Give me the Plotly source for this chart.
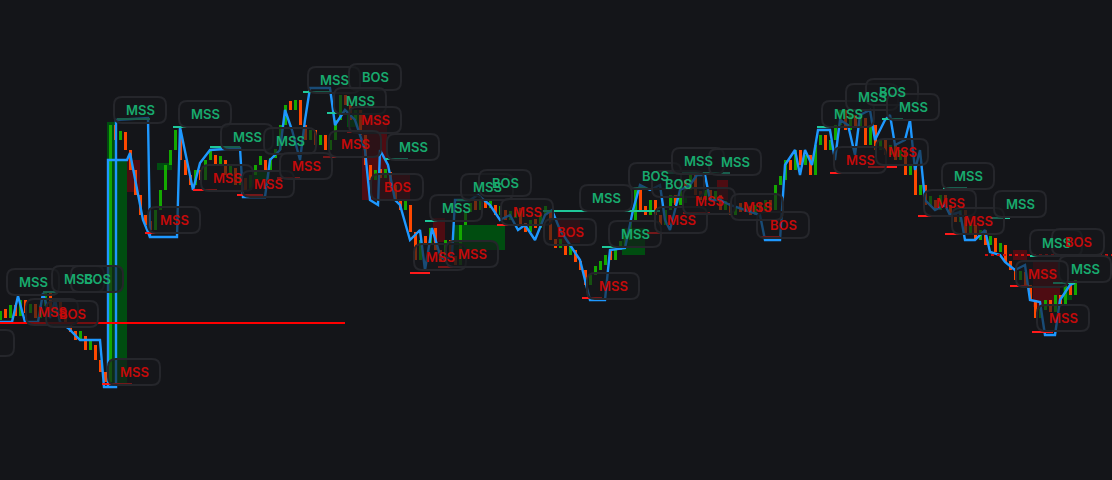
import plotly.graph_objects as go

# ---- Colors ----
BG = "#141519"
UP = "#14a800"
DOWN = "#ff4800"
BLUE = "#1e98ff"
LOW_LEVEL = "#ff1a1a"
HIGH_LEVEL = "#1ec79a"
BULL_BOX = "#004d10"
BEAR_BOX = "#4e0c12"
LABEL_FILL = "rgba(22,23,27,0.6)"
LABEL_LINE = "#25262b"
TXT_BULL = "#18aa6e"
TXT_BEAR = "#c40a0a"

# ---- Price data (bar index -> close) ----
first_open = 160
closes = [
    168, 162, 175, 164, 180, 167, 176, 162, 174, 187, 166, 180, 162, 158, 148, 140,
    144, 130, 135, 120, 108, 98, 355, 340, 348, 330, 310, 285, 265, 255, 250, 270,
    290, 315, 330, 350, 320, 305, 295, 310, 300, 320, 325, 315, 320, 305, 312, 295,
    302, 290, 305, 315, 320, 310, 322, 330, 355, 375, 370, 380, 355, 340, 350, 335,
    345, 330, 340, 360, 385, 375, 360, 370, 345, 315, 300, 310, 302, 308, 295, 280,
    270, 275, 248, 220, 240, 235, 252, 230, 218, 240, 222, 215, 255, 268, 275, 270,
    277, 272, 275, 265, 270, 260, 262, 272, 255, 248, 260, 252, 265, 268, 240, 232,
    235, 225, 230, 218, 210, 195, 205, 210, 215, 225, 220, 230, 235, 240, 260, 290,
    270, 265, 280, 265, 255, 270, 285, 275, 300, 290, 305, 285, 280, 290, 280, 285,
    270, 277, 265, 270, 268, 272, 265, 275, 268, 280, 270, 295, 300, 320, 310, 330,
    315, 325, 305, 335, 345, 330, 340, 355, 370, 350, 365, 352, 362, 335, 355, 330,
    340, 325, 335, 320, 330, 305, 315, 285, 295, 275, 280, 270, 285, 275, 265, 258,
    270, 245, 255, 240, 250, 235, 242, 228, 235, 218, 210, 200, 208, 195, 180, 162,
    170, 180, 168, 185, 175, 195, 185, 200,
]

# ---- Trailing structure line (bar index, price) ----
blue_t = [
    0, 2.4, 3.6, 5, 7.6, 8.6, 10, 11, 12, 13.6, 16, 20, 20.8, 23.2, 23.2, 29.6, 30,
    35.4, 36, 38.6, 40, 42, 48, 48.6, 53, 54, 56, 57, 58.4, 60, 61, 62, 66, 67, 69,
    71, 73, 74, 75.6, 76, 77.6, 79, 80, 82, 84, 85, 86.4, 88, 89, 90.4, 91, 94, 95.6,
    98, 100, 102, 103.6, 105, 107, 109, 110.4, 112, 114, 116, 118, 121, 122, 125,
    126.6, 128, 130, 132, 133, 134, 136, 138, 139.4, 141, 142, 144, 146, 149, 152,
    153, 156, 157, 159, 160, 161, 162.4, 163.6, 166, 167, 168, 169.6, 171, 172, 174,
    175, 176, 177, 178, 179, 181, 182, 183, 184, 185, 187, 189, 190, 192, 193, 195,
    197, 198, 200, 201, 203, 205, 206, 208, 209, 211, 212, 214, 215,
    None, 21.6, 21.6, 25.4, 26, 28.6, 30,
]
blue_p = [
    158, 158, 184, 158, 158, 187, 162, 180, 158, 152, 140, 140, 93, 93, 360, 362, 243,
    243, 353, 290, 317, 330, 332, 283, 283, 320, 330, 370, 350, 320, 360, 392, 392,
    355, 370, 360, 330, 280, 275, 330, 315, 280, 275, 240, 250, 210, 252, 225, 220,
    225, 280, 280, 285, 275, 260, 265, 250, 255, 240, 265, 270, 250, 235, 220, 180,
    180, 230, 232, 270, 295, 290, 295, 260, 250, 290, 295, 305, 305, 280, 280, 275,
    270, 265, 240, 240, 315, 330, 305, 330, 315, 350, 350, 320, 360, 355, 325, 365,
    370, 340, 350, 360, 365, 335, 340, 360, 310, 330, 280, 270, 275, 265, 268, 240,
    240, 250, 228, 225, 218, 210, 215, 180, 178, 145, 145, 180, 195, 197,
    None, 93, 320, 320, 327, 260, 243,
]

# ---- Swing levels (start bar, end bar, price) ----
low_t0 = [20.4, 29, 38.6, 47.4, 55.4, 64.6, 69.4, 82, 87.6, 99.4, 116.4, 129.4,
          136.6, 152, 166, 173.6, 183.6, 189, 202, 206.4]
low_t1 = [26.4, 35.4, 43.4, 52.6, 60, 69, 74, 86, 92.4, 103.4, 120.4, 133.4,
          142, 156, 172, 179.4, 189, 193.4, 205.6, 210.6]
low_p = [96, 247, 290, 285, 302, 323, 348, 207, 213, 255, 182, 247,
         267, 243, 307, 313, 264, 246, 194, 148]

high_t0 = [8.6, 23.4, 34.6, 42, 60.6, 65.4, 77, 85, 91.4, 108.6, 120.4, 126.4,
           133.4, 163.4, 176.4, 188.6, 198, 206, 210.6]
high_t1 = [11.6, 30, 38.6, 48, 66, 67.4, 81.6, 90.4, 95.4, 132, 124.6, 129.4,
           146, 168, 180.6, 193.4, 202, 210.6, 215]
high_p = [188, 361, 353, 333, 388, 367, 321, 259, 280, 269, 233, 292,
          307, 353, 361, 292, 262, 224, 197]

# long support line and dotted level
support = (0, 69, 157)
dotted = (197, 222.4, 225)

# ---- Order blocks (start bar, end bar, bottom, top) ----
bull_boxes = [
    (21.4, 23.4, 95, 358), (23.4, 25.4, 95, 320), (31.4, 34.4, 310, 317),
    (50.6, 54, 300, 308), (69.4, 72.6, 353, 370), (90.6, 101, 230, 255),
    (124.4, 129, 225, 252), (134, 137.4, 277, 285), (212.6, 214.4, 180, 193),
]
bear_boxes = [
    (25.4, 28, 288, 320), (72.4, 77.4, 280, 362), (77.4, 82, 280, 307),
    (86.6, 89, 238, 262), (111.4, 116, 237, 260), (143.4, 145.6, 280, 300),
    (202.6, 205.4, 220, 230), (206.6, 212, 173, 220), (193.4, 196, 247, 263),
]

# ---- Structure labels ----
label_t = [6.6, 15.6, 19.4, 10.4, 14.4, -2.4, 26.8, 28, 34.8, 41, 49.4, 45.4, 53.6,
           58, 61.2, 66.8, 75, 72, 75, 71, 82.6, 79.4, 91.2, 97.4, 101, 88, 94.4,
           105.4, 114, 121.2, 127, 122.6, 131, 135.6, 139.6, 147, 136.2, 141.8,
           156.6, 151.4, 169.6, 174.4, 178.4, 182.6, 172, 180.4, 193.6, 190, 195.6,
           204, 211.2, 215.6, 217, 208.4, 212.6]
label_p = [198, 201, 201, 168, 166, 137, 108, 370, 260, 366, 343, 302, 296,
           339, 314, 400, 403, 379, 360, 336, 333, 293, 272, 293, 297, 223, 226,
           268, 248, 282, 246, 194, 304, 296, 319, 318, 260, 279,
           255, 273, 366, 383, 388, 373, 320, 328, 304, 277, 259,
           276, 237, 238, 211, 206, 162]
label_text = ["MSS", "MSS", "BOS", "MSS", "BOS", "MSS", "MSS", "MSS", "MSS", "MSS",
              "MSS", "MSS", "MSS", "MSS", "MSS", "MSS", "BOS", "MSS", "MSS", "MSS",
              "MSS", "BOS", "MSS", "MSS", "BOS", "MSS", "MSS", "MSS", "BOS", "MSS",
              "MSS", "MSS", "BOS", "BOS", "MSS", "MSS", "MSS", "MSS", "BOS", "MSS",
              "MSS", "MSS", "BOS", "MSS", "MSS", "MSS", "MSS", "MSS", "MSS", "MSS",
              "MSS", "BOS", "MSS", "MSS", "MSS"]
label_bull = [1, 1, 1, 0, 0, 0, 0, 1, 0, 1, 1, 0, 0, 1, 0, 1, 1, 1, 0, 0, 1, 0, 1,
              1, 1, 0, 0, 0, 0, 1, 1, 0, 1, 1, 1, 1, 0, 0, 0, 0, 1, 1, 1, 1, 0, 0,
              1, 0, 0, 1, 1, 0, 1, 0, 0]


def segments(t0, t1, p):
    xs, ys = [], []
    for a, b, c in zip(t0, t1, p):
        xs += [a, b, None]
        ys += [c, c, None]
    return xs, ys


def rounded_box(w=52, h=26, r=8):
    x0, x1, y0, y1 = -w / 2, w / 2, -h / 2, h / 2
    return (f"M {x0 + r},{y0} L {x1 - r},{y0} Q {x1},{y0} {x1},{y0 + r} "
            f"L {x1},{y1 - r} Q {x1},{y1} {x1 - r},{y1} L {x0 + r},{y1} "
            f"Q {x0},{y1} {x0},{y1 - r} L {x0},{y0 + r} Q {x0},{y0} {x0 + r},{y0} Z")


opens = [first_open] + closes[:-1]
idx = list(range(len(closes)))
bases = [min(o, c) for o, c in zip(opens, closes)]
# keep tiny bodies visible as thin sticks
heights = [max(abs(c - o), 9) for o, c in zip(opens, closes)]
colors = [UP if c >= o else DOWN for o, c in zip(opens, closes)]

fig = go.Figure()

fig.add_trace(go.Bar(x=idx, y=heights, base=bases, width=0.6,
                     marker=dict(color=colors, line=dict(width=0)),
                     showlegend=False, hoverinfo="skip"))

fig.add_trace(go.Scatter(x=blue_t, y=blue_p, mode="lines",
                         line=dict(color=BLUE, width=2.4), showlegend=False,
                         hoverinfo="skip"))

lx, ly = segments(low_t0, low_t1, low_p)
fig.add_trace(go.Scatter(x=lx, y=ly, mode="lines",
                         line=dict(color=LOW_LEVEL, width=2), showlegend=False,
                         hoverinfo="skip"))
hx, hy = segments(high_t0, high_t1, high_p)
fig.add_trace(go.Scatter(x=hx, y=hy, mode="lines",
                         line=dict(color=HIGH_LEVEL, width=2), showlegend=False,
                         hoverinfo="skip"))

fig.add_trace(go.Scatter(x=[support[0], support[1]], y=[support[2], support[2]],
                         mode="lines", line=dict(color="#ff0000", width=2),
                         showlegend=False, hoverinfo="skip"))
fig.add_trace(go.Scatter(x=[dotted[0], dotted[1]], y=[dotted[2], dotted[2]],
                         mode="lines", line=dict(color="#d01010", width=2, dash="dot"),
                         showlegend=False, hoverinfo="skip"))

shapes = []
for t0, t1, p0, p1 in bull_boxes:
    shapes.append(dict(type="rect", x0=t0, x1=t1, y0=p0, y1=p1, xref="x", yref="y",
                       fillcolor=BULL_BOX, line=dict(width=0), layer="below"))
for t0, t1, p0, p1 in bear_boxes:
    shapes.append(dict(type="rect", x0=t0, x1=t1, y0=p0, y1=p1, xref="x", yref="y",
                       fillcolor=BEAR_BOX, line=dict(width=0), layer="below"))

annotations = []
box_path = rounded_box()
for t, p, txt, bull in zip(label_t, label_p, label_text, label_bull):
    shapes.append(dict(type="path", xref="x", yref="y", xsizemode="pixel",
                       ysizemode="pixel", xanchor=t, yanchor=p, path=box_path,
                       fillcolor=LABEL_FILL, line=dict(color=LABEL_LINE, width=2),
                       layer="above"))
    annotations.append(dict(x=t, y=p, text=txt, showarrow=False, xref="x", yref="y",
                            font=dict(family="Inter", size=13, weight=600,
                                      color=TXT_BULL if bull else TXT_BEAR)))

fig.update_layout(
    width=1112,
    height=480,
    margin=dict(l=0, r=0, t=0, b=0),
    paper_bgcolor=BG,
    plot_bgcolor=BG,
    xaxis=dict(range=[0, 222.4], visible=False, fixedrange=True),
    yaxis=dict(range=[0, 480], visible=False, fixedrange=True),
    shapes=shapes,
    annotations=annotations,
    bargap=0,
)

# remove the page's default body margin so the chart fills the window
fig.write_html(
    "out.html",
    config={"displayModeBar": False},
    post_script="document.body.style.margin='0';"
                "document.body.style.background='" + BG + "';",
)
